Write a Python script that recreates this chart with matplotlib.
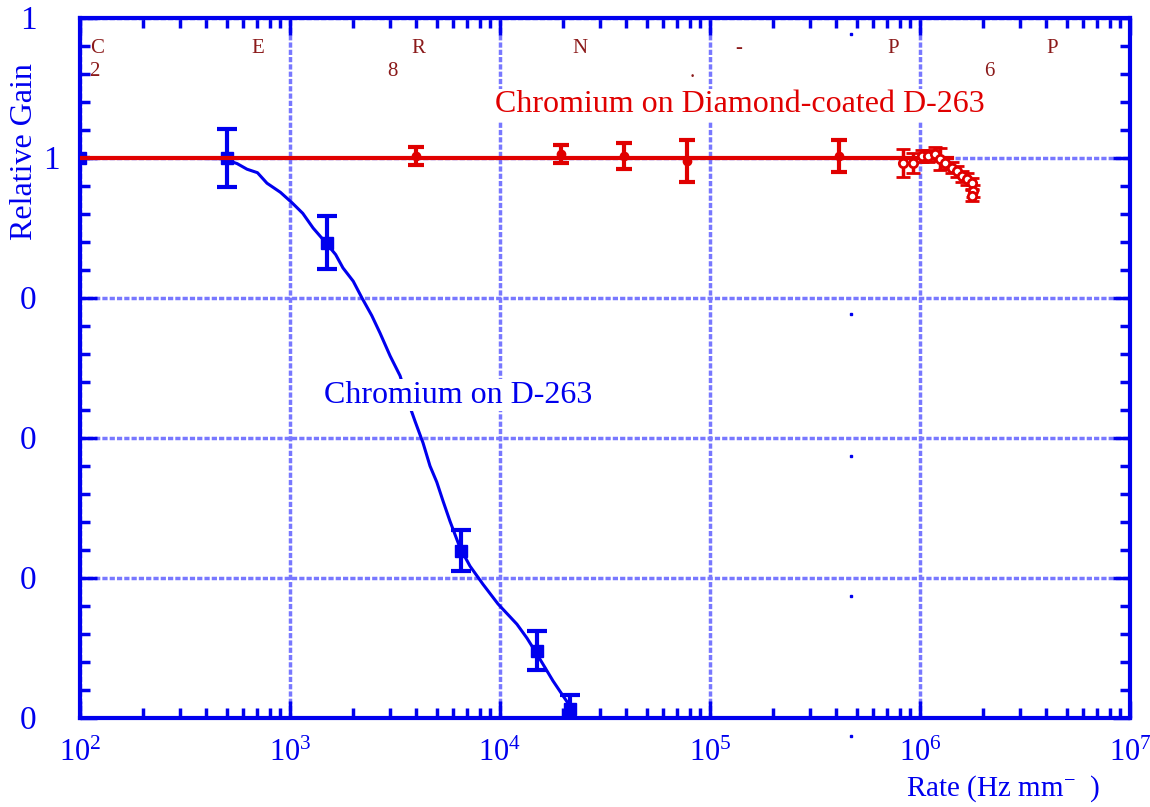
import matplotlib
matplotlib.use('Agg')
import matplotlib.pyplot as plt
from matplotlib.ticker import LogFormatterMathtext, FixedLocator, MultipleLocator, NullFormatter
import matplotlib.transforms as mtransforms

plt.rcParams['font.family'] = ['Liberation Serif', 'DejaVu Serif']
plt.rcParams['mathtext.fontset'] = 'custom'
plt.rcParams['mathtext.rm'] = 'Liberation Serif'
plt.rcParams['mathtext.it'] = 'Liberation Serif:italic'

BLUE = '#0000ee'
RED = '#e00000'
DARKRED = '#8b1a1a'
GRID = '#7878ff'

# Chromium on D-263 (measured points)
cr_x = [100, 500, 1500, 6500, 15000, 21500]
cr_y = [1.0, 1.0, 0.879, 0.439, 0.296, 0.213]
cr_err = [0.0, 0.041, 0.038, 0.029, 0.028, 0.02]

# Chromium on D-263 (guide curve)
cr_curve_x = [102, 215, 480, 560, 624, 700, 777, 900, 1023, 1150, 1288, 1501,
              1650, 1787, 2000, 2202, 2450, 2683, 3000, 3342, 3650, 3939, 4300,
              4642, 5000, 5354, 5781, 6453, 7197, 8299, 9780, 12040, 13450,
              15010, 17880, 21090]
cr_curve_y = [1.0, 1.0, 0.999, 0.992, 0.984, 0.979, 0.964, 0.951, 0.936, 0.921,
              0.900, 0.877, 0.862, 0.843, 0.824, 0.800, 0.775, 0.750, 0.717,
              0.689, 0.652, 0.624, 0.593, 0.560, 0.537, 0.510, 0.481, 0.443,
              0.417, 0.391, 0.363, 0.334, 0.314, 0.291, 0.253, 0.221]

# Chromium on diamond-coated D-263
dc_x = [4000, 19500, 39000, 78000, 411000]
dc_y = [1.003, 1.006, 1.003, 0.996, 1.003]
dc_err = [0.013, 0.013, 0.019, 0.03, 0.023]
dc_hi_x = [829000, 927000, 1.023e6, 1.09e6, 1.18e6, 1.245e6, 1.315e6, 1.42e6,
           1.50e6, 1.585e6, 1.675e6, 1.77e6, 1.79e6, 1.77e6]
dc_hi_y = [0.993, 0.993, 1.003, 1.003, 1.006, 0.999, 0.993, 0.986, 0.981,
           0.974, 0.970, 0.964, 0.953, 0.946]
dc_hi_err = [0.02, 0.014, 0.008, 0.008, 0.01, 0.016, 0.008, 0.008, 0.008,
             0.008, 0.008, 0.008, 0.008, 0.008]
dc_line_x = [100, 1.42e6]
dc_line_y = [1.0, 1.0]

# stray dots in the scan
dot_x = [469000, 469000, 469000, 469000, 469000]
dot_y = [1.177, 0.777, 0.574, 0.374, 0.174]

y_ticks = [0.2, 0.4, 0.6, 0.8, 1.0, 1.2]
y_ticklabels = ['0', '0', '0', '0', '1', '1']
y_label_x = [-0.0495, -0.0495, -0.0495, -0.0495, -0.0275, -0.0495]

# header letters (axes fraction positions)
header = [('C', 0.016, 0.957), ('2', 0.014, 0.923), ('E', 0.169, 0.957),
          ('8', 0.298, 0.923), ('R', 0.322, 0.957), ('N', 0.476, 0.957),
          ('.', 0.583, 0.922), ('-', 0.627, 0.957), ('P', 0.774, 0.957),
          ('6', 0.866, 0.923), ('P', 0.926, 0.957)]


def main():
    fig = plt.figure(figsize=(11.5, 8.07), dpi=100)
    ax = fig.add_axes([80 / 1150, 89 / 807, 1050 / 1150, 700 / 807])
    ax.set_xscale('log')
    ax.set_xlim(1e2, 1e7)
    ax.set_ylim(0.2, 1.2)

    ax.grid(True, which='major', color=GRID, linestyle=(0, (1.5, 0.6)), linewidth=2.5)
    ax.set_axisbelow(True)

    ax.plot(cr_curve_x, cr_curve_y, color=BLUE, lw=2.2, zorder=3)
    ax.errorbar(cr_x, cr_y, yerr=cr_err, fmt='s', color=BLUE, ms=8,
                elinewidth=3, capsize=7, capthick=3, zorder=4)

    ax.plot(dc_line_x, dc_line_y, color=RED, lw=3, zorder=5)
    ax.errorbar(dc_x, dc_y, yerr=dc_err, fmt='o', color=RED, ms=6,
                elinewidth=3, capsize=6, capthick=3, zorder=6)
    ax.errorbar(dc_hi_x, dc_hi_y, yerr=dc_hi_err, fmt='o', color=RED, ms=6,
                mfc='white', mew=2, elinewidth=2.5, capsize=5, capthick=2.5,
                zorder=6)

    ax.plot(dot_x, dot_y, 's', color=BLUE, ms=2, clip_on=False, zorder=7)

    for s, xf, yf in header:
        ax.text(xf, yf, s, transform=ax.transAxes, color=DARKRED, fontsize=15,
                ha='center', va='center')

    ax.text(0.6286, 0.876, 'Chromium on Diamond-coated D-263', transform=ax.transAxes,
            color=RED, fontsize=23, ha='center', va='center',
            bbox=dict(facecolor='white', edgecolor='none', pad=1))
    ax.text(0.3605, 0.4614, 'Chromium on D-263', transform=ax.transAxes,
            color=BLUE, fontsize=23, ha='center', va='center',
            bbox=dict(facecolor='white', edgecolor='none', pad=1))

    ax.yaxis.set_major_locator(FixedLocator(y_ticks))
    ax.yaxis.set_major_formatter(NullFormatter())
    ax.yaxis.set_minor_locator(MultipleLocator(0.04))
    ax.xaxis.set_major_formatter(LogFormatterMathtext())
    shift = mtransforms.ScaledTranslation(0, -3 / 100, fig.dpi_scale_trans)
    for v, lab, xf in zip(y_ticks, y_ticklabels, y_label_x):
        ax.text(xf, v, lab, transform=ax.get_yaxis_transform() + shift,
                color=BLUE, fontsize=24, ha='center', va='center', clip_on=False)

    for sp in ax.spines.values():
        sp.set_color(BLUE)
        sp.set_linewidth(3)
    ax.tick_params(which='both', direction='in', top=True, right=True,
                   color=BLUE, labelcolor=BLUE, width=2.5)
    ax.tick_params(which='major', length=12)
    ax.tick_params(which='minor', length=7)
    ax.tick_params(axis='x', labelsize=22, pad=15)

    fig.text(25 / 1150, 1 - 152 / 807, 'Relative Gain', rotation=90, color=BLUE,
             fontsize=23, ha='center', va='center')
    fig.text(1100 / 1150, 1 - 789 / 807, 'Rate (Hz mm$^{-}$  )', color=BLUE,
             fontsize=21, ha='right', va='center')

    fig.savefig('out.png', dpi=100)


if __name__ == '__main__':
    main()
